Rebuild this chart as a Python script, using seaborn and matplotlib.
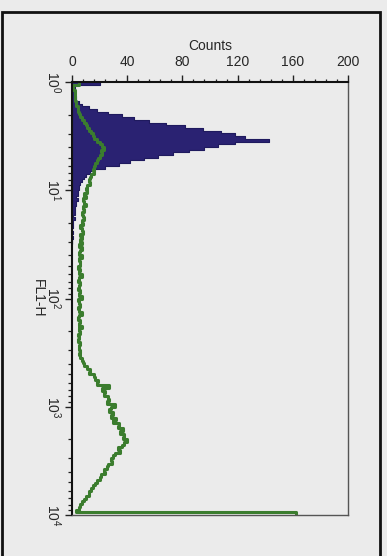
import numpy as np
import pandas as pd
import matplotlib
matplotlib.use("Agg")
import matplotlib.pyplot as plt
import seaborn as sns
from matplotlib.ticker import FixedLocator, MultipleLocator
from matplotlib.patches import Rectangle

# ---- data (FL1-H channels in log10 units, counts) ----
navy_edges = [round(v, 4) for v in np.linspace(0.0, 1.5, 61)]    # 0.025-decade channels
navy_counts = [20, 1, 2, 2, 2, 3, 3, 5, 7, 12,
               18, 26, 36, 45, 56, 68, 82, 95, 108, 118,
               125, 143, 118, 106, 96, 85, 73, 62, 52, 42,
               34, 24, 17, 13, 10, 9, 7, 6, 5, 5,
               4, 4, 3, 4, 3, 3, 2, 2, 2, 1,
               2, 1, 1, 1, 0, 1, 0, 1, 0, 0]

green_edges = [round(v, 4) for v in np.linspace(0.0, 4.0, 161)]  # 0.025-decade channels
green_counts = [5, 1, 1, 2, 2, 2, 2, 3, 3, 4,
                4, 5, 6, 7, 9, 10, 11, 12, 14, 15,
                16, 18, 20, 22, 23, 21, 22, 20, 19, 18,
                17, 16, 15, 16, 14, 13, 12, 13, 11, 10,
                11, 9, 10, 8, 9, 10, 8, 9, 7, 8,
                9, 7, 8, 6, 7, 8, 6, 7, 6, 7,
                5, 7, 6, 5, 7, 5, 6, 6, 4, 6,
                5, 7, 5, 4, 6, 5, 4, 6, 5, 7,
                4, 5, 6, 4, 5, 7, 5, 4, 6, 5,
                7, 5, 6, 4, 5, 4, 6, 5, 5, 6,
                5, 6, 7, 8, 9, 11, 13, 12, 16, 17,
                19, 18, 27, 22, 24, 23, 26, 27, 25, 31,
                28, 27, 30, 28, 32, 30, 34, 33, 37, 35,
                38, 37, 40, 38, 36, 33, 35, 31, 30, 28,
                29, 26, 25, 23, 24, 21, 20, 18, 17, 15,
                14, 12, 12, 10, 9, 7, 6, 5, 3, 162]

count_ticks = [0, 40, 80, 120, 160, 200]
decades = [0, 1, 2, 3, 4]
decade_labels = [r"$10^{0}$", r"$10^{1}$", r"$10^{2}$", r"$10^{3}$", r"$10^{4}$"]


def centers(edges):
    e = np.asarray(edges)
    return (e[:-1] + e[1:]) / 2


navy_df = pd.DataFrame({"FL1": centers(navy_edges), "count": navy_counts})
green_df = pd.DataFrame({"FL1": centers(green_edges), "count": green_counts})

# ---- style ----
bg = "#ebebeb"
sns.set_style("white")
plt.rcParams["font.family"] = ["Liberation Sans", "DejaVu Sans"]
plt.rcParams["mathtext.default"] = "regular"
plt.rcParams["figure.facecolor"] = bg
plt.rcParams["axes.facecolor"] = bg

fig = plt.figure(figsize=(3.87, 5.56), dpi=100)
ax = fig.add_axes([72 / 387, 1 - 515 / 556, (348 - 72) / 387, (515 - 82) / 556])

sns.histplot(data=navy_df, y="FL1", weights="count", bins=navy_edges,
             element="step", fill=True, color="#2a2272", alpha=1,
             edgecolor="#1f1a5e", linewidth=0.8, ax=ax)
sns.histplot(data=green_df, y="FL1", weights="count", bins=green_edges,
             element="step", fill=False, color="#3b7d2e", linewidth=2.2, ax=ax)

ax.set_xlim(0, 200)
ax.set_ylim(4, 0)

# top x axis
ax.xaxis.tick_top()
ax.xaxis.set_label_position("top")
ax.set_xticks(count_ticks)
ax.xaxis.set_minor_locator(MultipleLocator(8))
ax.set_xlabel("Counts", fontsize=10, labelpad=4)
ax.tick_params(axis="x", which="major", direction="out", length=5, width=1.0,
               top=True, bottom=False, labeltop=True, labelbottom=False,
               labelsize=10, pad=4, color="#222222")
ax.tick_params(axis="x", which="minor", direction="out", length=2.5, width=0.9,
               top=True, bottom=False, color="#222222")

# left log axis (values in log10 units)
ax.set_yticks(decades)
ax.set_yticklabels(decade_labels, rotation=270, va="center", ha="right")
minor = [d + np.log10(m) for d in decades[:-1] for m in range(2, 10)]
ax.yaxis.set_minor_locator(FixedLocator(minor))
ax.tick_params(axis="y", which="major", direction="out", length=5, width=1.0,
               left=True, labelsize=10, pad=2, color="#222222")
ax.tick_params(axis="y", which="minor", direction="out", length=3, width=0.9,
               left=True, color="#222222")
ax.set_ylabel("FL1-H", fontsize=10, rotation=270, labelpad=4, va="center")

for side in ["left", "top"]:
    ax.spines[side].set_color("#111111")
    ax.spines[side].set_linewidth(1.5)
for side in ["right", "bottom"]:
    ax.spines[side].set_color("#555555")
    ax.spines[side].set_linewidth(1.0)
    ax.spines[side].set_visible(True)

# outer frame of the figure
fig.add_artist(Rectangle((1.5 / 387, -0.02), (380 - 1.5) / 387, 1 - 12 / 556 + 0.02,
                         transform=fig.transFigure, fill=False,
                         edgecolor="#111111", linewidth=2.0))

fig.savefig("out.png", dpi=100, facecolor=bg)
